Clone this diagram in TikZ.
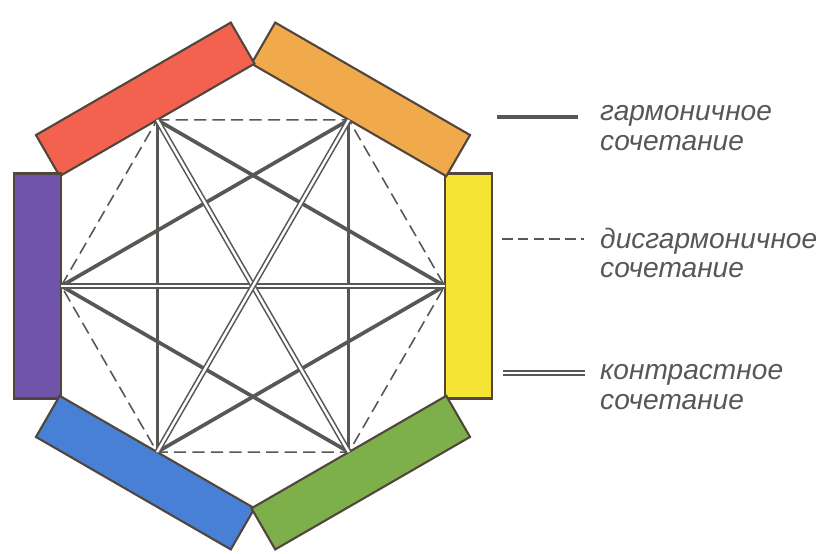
\documentclass[tikz,border=0pt]{standalone}
\usepackage{fontspec}
\setmainfont{Liberation Sans}
\definecolor{HexRed}{RGB}{242,98,78}
\definecolor{HexOrange}{RGB}{240,170,75}
\definecolor{HexYellow}{RGB}{246,228,52}
\definecolor{HexGreen}{RGB}{125,176,74}
\definecolor{HexBlue}{RGB}{72,128,214}
\definecolor{HexPurple}{RGB}{112,84,170}
\definecolor{HexEdge}{RGB}{82,70,60}
\definecolor{HexLine}{RGB}{86,88,84}
\usepackage{tikz}

\begin{document}
\begin{tikzpicture}[
    x=0.02cm, y=0.02cm,
    bar/.style={rectangle, draw=HexEdge, line width=1.2pt, fill=#1, minimum width=4.5cm, minimum height=0.95cm, inner sep=0pt, outer sep=0pt},
    harm/.style={HexLine, line width=2.1pt},
    disharm/.style={HexLine, line width=0.9pt, dash pattern=on 7pt off 3.5pt},
    contr/.style={HexLine, double=white, double distance=1.4pt, line width=0.9pt},
    legend/.style={anchor=west, align=left, text=HexLine, font=\fontsize{16}{17}\selectfont\itshape}
]
    \useasboundingbox (0,0) rectangle (822,554);
    % colour bars round the hexagon
    \begin{scope}[shift={(253,268)}]
        \node[bar=HexYellow, rotate=-90] (yellow) at (0:215.5)   {};
        \node[bar=HexOrange, rotate=-30] (orange) at (60:215.5)  {};
        \node[bar=HexRed,    rotate=30]  (red)    at (120:215.5) {};
        \node[bar=HexPurple, rotate=90]  (purple) at (180:215.5) {};
        \node[bar=HexBlue,   rotate=150] (blue)   at (240:215.5) {};
        \node[bar=HexGreen,  rotate=210] (green)  at (300:215.5) {};
    \end{scope}
    % neighbours
    \draw[disharm] (red.south) -- (orange.south) -- (yellow.south) -- (green.south)
        -- (blue.south) -- (purple.south) -- (red.south);
    % one colour between
    \draw[harm] (purple.south) -- (orange.south);
    \draw[harm] (purple.south) -- (green.south);
    \draw[harm] (red.south) -- (yellow.south);
    \draw[harm] (blue.south) -- (yellow.south);
    \draw[harm, line width=1.6pt] (red.south) -- (blue.south);
    \draw[harm, line width=1.6pt] (orange.south) -- (green.south);
    % opposite colours
    \draw[contr] (purple.south) -- (yellow.south);
    \draw[contr] (red.south) -- (green.south);
    \draw[contr] (orange.south) -- (blue.south);
    % legend
    \coordinate (h1) at (497,437);
    \coordinate (h2) at (578,437);
    \draw[harm, line width=2.6pt] (h1) -- (h2);
    \node[legend] (harmtxt) at (594,426) {гармоничное\\сочетание};
    \coordinate (d1) at (502,315);
    \coordinate (d2) at (584,315);
    \draw[disharm, dash pattern=on 6pt off 3pt] (d1) -- (d2);
    \node[legend] (distxt) at (594,301) {дисгармоничное\\сочетание};
    \coordinate (c1) at (503,181);
    \coordinate (c2) at (585,181);
    \draw[contr] (c1) -- (c2);
    \node[legend] (contrtxt) at (594,167) {контрастное\\сочетание};
\end{tikzpicture}
\end{document}
